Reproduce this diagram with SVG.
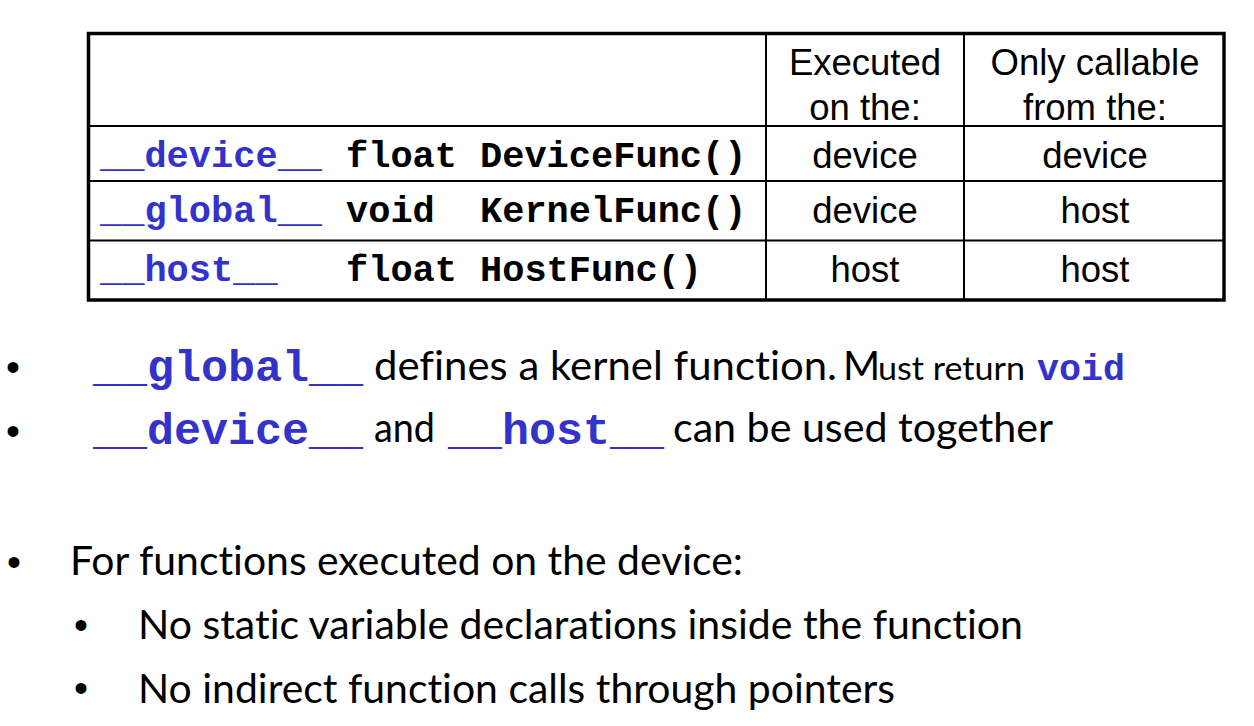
<svg xmlns="http://www.w3.org/2000/svg" width="1254" height="726" viewBox="0 0 1254 726">
  <style>
    .grid { stroke: #000; stroke-width: 2; fill: none; }
    .frame { stroke: #000; stroke-width: 3.5; fill: none; }
    .code { font-family: "Liberation Mono", "Courier New", monospace; font-weight: bold; fill: #000; }
    .kw { fill: #3333CC; }
    .cell { font-family: "Liberation Sans", Arial, sans-serif; font-size: 36.5px; fill: #000; text-anchor: middle; }
    .body { font-family: Lato, "Open Sans", sans-serif; font-size: 40px; fill: #000; font-variant-ligatures: none; font-feature-settings: "liga" 0; }
    .small { font-size: 32px; }
    .bullet { font-family: "Liberation Sans", Arial, sans-serif; font-size: 40px; fill: #000; text-anchor: middle; }
  </style>
  <rect width="1254" height="726" fill="#fff"/>

  <g id="table">
    <g id="table-grid">
      <line class="grid" x1="88.5" y1="126" x2="1224" y2="126"/>
      <line class="grid" x1="88.5" y1="181" x2="1224" y2="181"/>
      <line class="grid" x1="88.5" y1="240.5" x2="1224" y2="240.5"/>
      <line class="grid" x1="766" y1="33.5" x2="766" y2="300"/>
      <line class="grid" x1="964" y1="33.5" x2="964" y2="300"/>
      <rect class="frame" x="88.5" y="33.5" width="1135.5" height="266.5"/>
    </g>
    <g id="header">
      <text class="cell" x="865" y="75">Executed</text>
      <text class="cell" x="865" y="120">on the:</text>
      <text class="cell" x="1095" y="75">Only callable</text>
      <text class="cell" x="1095" y="120">from the:</text>
    </g>
    <g id="row-device">
      <text class="code" font-size="37" y="166.5"><tspan class="kw" x="100">__device__</tspan><tspan x="346">float</tspan><tspan x="480">DeviceFunc()</tspan></text>
      <text class="cell" x="865" y="168">device</text>
      <text class="cell" x="1095" y="168">device</text>
    </g>
    <g id="row-global">
      <text class="code" font-size="37" y="221.5"><tspan class="kw" x="100">__global__</tspan><tspan x="346">void</tspan><tspan x="480">KernelFunc()</tspan></text>
      <text class="cell" x="865" y="223">device</text>
      <text class="cell" x="1095" y="223">host</text>
    </g>
    <g id="row-host">
      <text class="code" font-size="37" y="280.5"><tspan class="kw" x="100">__host__</tspan><tspan x="346">float</tspan><tspan x="480">HostFunc()</tspan></text>
      <text class="cell" x="865" y="282">host</text>
      <text class="cell" x="1095" y="282">host</text>
    </g>
  </g>

  <g id="bullets">
    <g id="bullet-global">
      <text class="bullet" x="13" y="381">•</text>
      <text class="code kw" font-size="45" x="93" y="381">__global__</text>
      <text class="body" x="374" y="380" textLength="463" lengthAdjust="spacingAndGlyphs">defines a kernel function.</text>
      <text class="body" x="843" y="380">M</text>
      <text class="body small" x="878" y="380" textLength="147" lengthAdjust="spacingAndGlyphs">ust return</text>
      <text class="code kw" font-size="36.7" x="1037" y="380">void</text>
    </g>
    <g id="bullet-device-host">
      <text class="bullet" x="13" y="445">•</text>
      <text class="code kw" font-size="45" x="93" y="444">__device__</text>
      <text class="body" x="374" y="442" textLength="61" lengthAdjust="spacingAndGlyphs">and</text>
      <text class="code kw" font-size="45" x="448" y="444">__host__</text>
      <text class="body" x="673" y="442" textLength="380" lengthAdjust="spacingAndGlyphs">can be used together</text>
    </g>
    <g id="bullet-device-funcs">
      <text class="bullet" x="14" y="576">•</text>
      <text class="body" x="70" y="575" textLength="673" lengthAdjust="spacingAndGlyphs">For functions executed on the device:</text>
      <text class="bullet" x="81" y="639">•</text>
      <text class="body" x="138" y="639" textLength="885" lengthAdjust="spacingAndGlyphs">No static variable declarations inside the function</text>
      <text class="bullet" x="81" y="702">•</text>
      <text class="body" x="138" y="702.5" textLength="757" lengthAdjust="spacingAndGlyphs">No indirect function calls through pointers</text>
    </g>
  </g>
</svg>
